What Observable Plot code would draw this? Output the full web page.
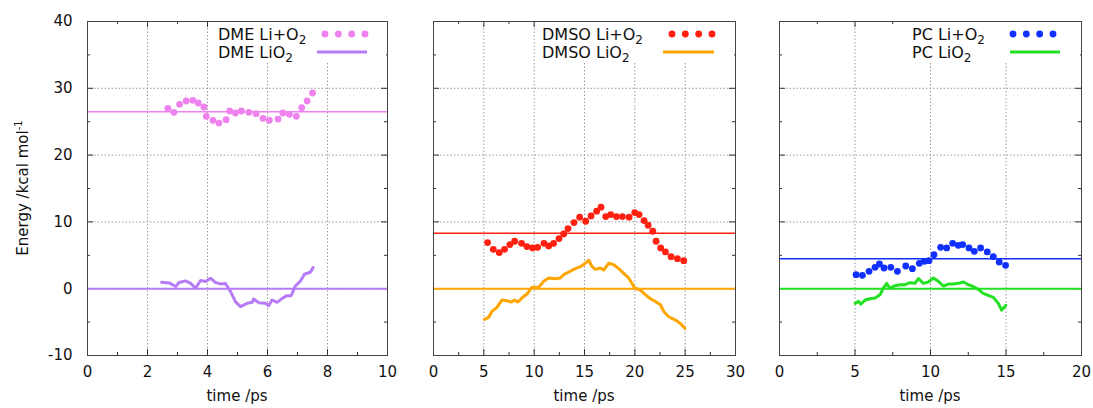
<!DOCTYPE html>
<html><head><meta charset="utf-8">
<script src="https://cdn.jsdelivr.net/npm/d3@7"></script>
<script src="https://cdn.jsdelivr.net/npm/@observablehq/plot@0.6"></script>
<style>
body{margin:0;background:#fff;font-family:"DejaVu Sans",sans-serif;}
#chart{position:relative;width:1093px;height:408px;overflow:hidden;background:#fff}
#chart svg{position:absolute;top:0}
</style>
</head><body>
<div id="chart"></div>
<script>
// ---- data ----
const panelNames = ["DME", "DMSO", "PC"];
const xDomains = [[0, 10], [0, 30], [0, 20]];
const xMajorTicks = [[0, 2, 4, 6, 8, 10], [0, 5, 10, 15, 20, 25, 30], [0, 5, 10, 15, 20]];
const xMinorTicks = [[1, 3, 5, 7, 9], [2.5, 7.5, 12.5, 17.5, 22.5, 27.5], [2.5, 7.5, 12.5, 17.5]];
const yMajorTicks = [-10, 0, 10, 20, 30, 40];
const yMinorTicks = [-5, 5, 15, 25, 35];
const refLevels = [26.5, 8.3, 4.5];
const dotColors = ["#ee82ee", "#ff2010", "#1030ff"];
const lineColors = ["#b77bf7", "#ffa500", "#22e022"];

const dmeDotT = [2.68,2.88,3.07,3.29,3.51,3.69,3.88,3.96,4.18,4.38,4.62,4.74,4.93,5.13,5.38,5.62,5.85,6.06,6.35,6.51,6.73,6.96,7.14,7.32,7.50];
const dmeDotV = [27.0,26.4,27.6,28.1,28.2,27.8,27.2,25.8,25.2,24.8,25.3,26.6,26.3,26.6,26.4,26.2,25.5,25.2,25.4,26.3,26.1,25.8,27.1,28.1,29.3];
const dmeLineT = [2.47,2.72,2.94,3.05,3.27,3.44,3.60,3.77,3.94,4.10,4.27,4.43,4.60,4.77,4.93,5.10,5.32,5.49,5.54,5.71,5.93,6.04,6.15,6.32,6.49,6.65,6.79,6.93,7.10,7.23,7.43,7.52];
const dmeLineV = [0.96,0.87,0.32,0.92,1.17,0.81,0.06,1.22,1.07,1.57,0.92,0.72,0.77,-0.44,-1.94,-2.69,-2.19,-2.04,-1.54,-2.09,-2.19,-2.54,-1.69,-2.04,-1.44,-1.04,-1.04,0.41,1.16,2.16,2.46,3.16];

const dmsoDotT = [5.37,5.94,6.53,7.06,7.59,8.06,8.75,9.28,9.85,10.34,10.97,11.44,11.93,12.47,12.93,13.36,13.96,14.52,15.12,15.65,16.21,16.64,17.11,17.60,18.17,18.76,19.43,19.99,20.42,20.92,21.32,21.78,22.11,22.57,23.04,23.60,24.23,24.86];
const dmsoDotV = [6.9,5.9,5.4,5.9,6.6,7.1,6.8,6.3,6.1,6.2,6.8,6.4,6.8,7.5,8.2,9.0,9.9,10.7,10.1,10.9,11.6,12.2,10.8,11.1,10.8,10.8,10.7,11.4,11.1,10.2,9.5,8.6,7.1,6.1,5.5,4.8,4.5,4.2];
const dmsoLineT = [5.07,5.47,5.80,6.30,6.80,7.30,7.73,8.06,8.39,8.85,9.28,9.78,10.44,10.94,11.44,12.10,12.60,12.93,13.43,14.09,14.59,15.08,15.42,15.75,16.08,16.58,16.91,17.40,17.90,18.40,18.90,19.39,19.99,20.55,21.05,21.55,22.04,22.54,22.87,23.37,24.03,24.53,24.96];
const dmsoLineV = [-4.6,-4.3,-3.4,-2.8,-1.7,-1.8,-2.0,-1.7,-2.0,-1.3,-0.8,0.2,0.2,1.1,1.6,1.5,1.6,2.1,2.5,3.0,3.3,3.8,4.3,3.3,2.9,3.1,2.8,3.8,3.6,3.0,2.3,1.6,0.1,-0.2,-0.9,-1.5,-1.9,-2.4,-3.4,-4.2,-4.7,-5.2,-5.9];

const pcDotT = [5.07,5.49,5.93,6.33,6.62,6.92,7.37,7.81,8.36,8.80,9.26,9.59,9.90,10.23,10.67,11.07,11.47,11.84,12.13,12.55,12.90,13.32,13.76,14.16,14.55,14.97];
const pcDotV = [2.1,2.0,2.6,3.2,3.7,3.1,3.2,2.6,3.4,3.0,3.8,4.1,4.2,5.1,6.2,6.1,6.8,6.5,6.6,6.1,5.6,6.1,5.5,4.8,4.0,3.5];
const pcLineT = [5.01,5.23,5.38,5.67,6.00,6.33,6.66,6.88,7.10,7.28,7.59,7.98,8.31,8.64,8.97,9.20,9.53,9.86,10.19,10.52,10.85,11.18,11.51,11.84,12.17,12.50,12.83,13.16,13.49,13.82,14.16,14.49,14.71,14.99];
const pcLineV = [-2.2,-1.9,-2.3,-1.7,-1.5,-1.4,-0.9,0.1,0.8,0.1,0.4,0.6,0.6,0.9,0.8,1.5,0.8,1.0,1.6,1.1,0.4,0.7,0.7,0.8,1.0,0.6,0.3,-0.1,-0.7,-1.0,-1.3,-2.2,-3.2,-2.5];

const dotSeriesT = [dmeDotT, dmsoDotT, pcDotT];
const dotSeriesV = [dmeDotV, dmsoDotV, pcDotV];
const lineSeriesT = [dmeLineT, dmsoLineT, pcLineT];
const lineSeriesV = [dmeLineV, dmsoLineV, pcLineV];

const xTitle = "time /ps";
const yTitle = "Energy /kcal mol";

// ---- layout ----
const H = 408, MT = 21, MB = 53;
const layout = [
  {left: 0, width: 410, ml: 87, mr: 23},
  {left: 410, width: 346, ml: 23, mr: 21},
  {left: 756, width: 337, ml: 23, mr: 12}
];
const legendPos = [
  {box: 212, text: 218, d0: 325, d1: 365, l0: 317, l1: 367},
  {box: 536, text: 542, d0: 672, d1: 712, l0: 663, l1: 714},
  {box: 906, text: 912, d0: 1013, d1: 1053, l0: 1010, l1: 1060}
];

const chart = document.getElementById("chart");
const ph = H - MT - MB;
const tickStroke = "#333";

layout.forEach((L, i) => {
  const pw = L.width - L.ml - L.mr;
  const dots = dotSeriesT[i].map((t, k) => ({t, v: dotSeriesV[i][k]}));
  const line = lineSeriesT[i].map((t, k) => ({t, v: lineSeriesV[i][k]}));
  const xs = xMajorTicks[i];
  const gridX = xs.slice(1, -1);
  const gridY = yMajorTicks.slice(1, -1);
  const svg = Plot.plot({
    width: L.width, height: H,
    marginTop: MT, marginBottom: MB, marginLeft: L.ml, marginRight: L.mr,
    x: {domain: xDomains[i], axis: null},
    y: {domain: [-10, 40], axis: null},
    style: {fontFamily: "DejaVu Sans, sans-serif", fontSize: "15px", color: "#111", background: "transparent", overflow: "visible"},
    marks: [
      Plot.ruleX(gridX, {stroke: "#9a9a9a", strokeDasharray: "1.5,2", strokeWidth: 1}),
      Plot.ruleY(gridY, {stroke: "#9a9a9a", strokeDasharray: "1.5,2", strokeWidth: 1}),
      Plot.ruleX(xs, {insetTop: ph - 6, stroke: tickStroke}),
      Plot.ruleX(xs, {insetBottom: ph - 6, stroke: tickStroke}),
      Plot.ruleX(xMinorTicks[i], {insetTop: ph - 3, stroke: tickStroke}),
      Plot.ruleX(xMinorTicks[i], {insetBottom: ph - 3, stroke: tickStroke}),
      Plot.ruleY(yMajorTicks, {insetRight: pw - 6, stroke: tickStroke}),
      Plot.ruleY(yMajorTicks, {insetLeft: pw - 6, stroke: tickStroke}),
      Plot.ruleY(yMinorTicks, {insetRight: pw - 3, stroke: tickStroke}),
      Plot.ruleY(yMinorTicks, {insetLeft: pw - 3, stroke: tickStroke}),
      Plot.ruleY([refLevels[i]], {stroke: dotColors[i], strokeWidth: 1.5}),
      Plot.ruleY([0], {stroke: lineColors[i], strokeWidth: 2}),
      Plot.line(line, {x: "t", y: "v", stroke: lineColors[i], strokeWidth: 3, strokeLinejoin: "round"}),
      Plot.dot(dots, {x: "t", y: "v", r: 3.4, fill: dotColors[i]}),
      Plot.frame({stroke: "#444"}),
      Plot.axisX({ticks: xs, tickSize: 0, tickPadding: 11, tickFormat: d => String(d), label: null, fill: "#111"}),
      i === 0 ? Plot.axisY({ticks: yMajorTicks, tickSize: 0, tickPadding: 15, tickFormat: d => String(d), label: null, fill: "#111"}) : null
    ]
  });
  svg.style.left = L.left + "px";
  chart.appendChild(svg);
});

// ---- overlay: legends and axis titles ----
const ov = d3.select(chart).append("svg")
  .attr("width", 1093).attr("height", H)
  .style("left", "0px")
  .attr("font-family", "DejaVu Sans, sans-serif")
  .attr("fill", "#111");

legendPos.forEach((P, i) => {
  const L = layout[i];
  const right = L.left + L.width - L.mr - 1;
  ov.append("rect").attr("x", P.box).attr("y", MT + 1).attr("width", right - P.box).attr("height", 40).attr("fill", "#fff");
  const rows = [[panelNames[i] + " Li+O", 40], [panelNames[i] + " LiO", 58.3]];
  rows.forEach(([txt, y]) => {
    const t = ov.append("text").attr("x", P.text).attr("y", y).attr("font-size", 16);
    t.append("tspan").text(txt);
    t.append("tspan").attr("dy", 4).attr("font-size", 12).text("2");
  });
  d3.range(4).forEach(k => {
    ov.append("circle").attr("cx", P.d0 + k * (P.d1 - P.d0) / 3).attr("cy", 34).attr("r", 3.4).attr("fill", dotColors[i]);
  });
  ov.append("line").attr("x1", P.l0).attr("x2", P.l1).attr("y1", 52).attr("y2", 52)
    .attr("stroke", lineColors[i]).attr("stroke-width", 3);
  ov.append("text").attr("x", L.left + L.ml + (L.width - L.ml - L.mr) / 2).attr("y", 401)
    .attr("text-anchor", "middle").attr("font-size", 15).text(xTitle);
});

const yt = ov.append("text").attr("transform", "translate(28,188) rotate(-90)")
  .attr("text-anchor", "middle").attr("font-size", 15);
yt.append("tspan").text(yTitle);
yt.append("tspan").attr("dy", -6).attr("font-size", 10).text("-1");
</script>
</body></html>
